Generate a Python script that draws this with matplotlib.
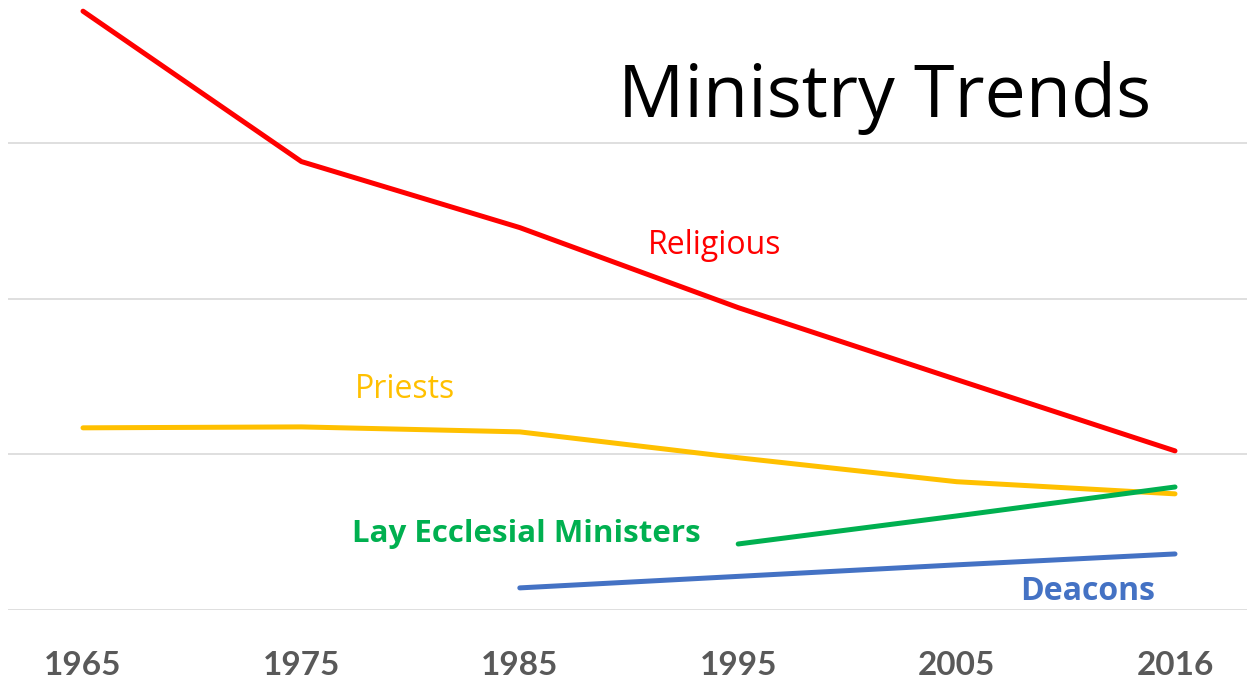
import matplotlib
matplotlib.use("Agg")
import matplotlib.pyplot as plt
import numpy as np

years = ["1965", "1975", "1985", "1995", "2005", "2016"]
religious = [192300, 144000, 122800, 97100, 74000, 51100]
priests = [58500, 58800, 57200, 48900, 41200, 37300]
lay_years_idx = [3, 4, 5]
lay_ministers = [21200, 30200, 39500]
deacon_years_idx = [2, 3, 4, 5]
deacons = [7100, 10800, 14500, 18000]

RED = "#FF0000"
YEL = "#FFC000"
GRN = "#00B050"
BLU = "#4472C4"

W, H = 1247, 681
fig = plt.figure(figsize=(W / 100, H / 100), dpi=100)
ax = fig.add_axes([8 / W, (H - 610) / H, (W - 8) / W, 610 / H])

x = np.arange(len(years))
lw = 3.6
ax.plot(x, religious, color=RED, lw=lw, solid_capstyle="round", solid_joinstyle="round", zorder=3)
ax.plot(x, priests, color=YEL, lw=lw, solid_capstyle="round", solid_joinstyle="round", zorder=3)
ax.plot(lay_years_idx, lay_ministers, color=GRN, lw=lw, solid_capstyle="round", zorder=4)
ax.plot(deacon_years_idx, deacons, color=BLU, lw=lw, solid_capstyle="round", zorder=3)

step = 50000
ax.set_ylim(0, 610 / 155.7 * step)
ax.set_xlim(-75 / 218.4, 5 + 72 / 218.4)
ax.set_yticks([0, 50000, 100000, 150000])
ax.yaxis.grid(True, color="#D9D9D9", lw=1.2)
ax.set_axisbelow(True)
ax.tick_params(axis="y", left=False, labelleft=False)
ax.set_xticks(x)
ax.set_xticklabels(years, fontsize=24, fontweight="bold", color="#595959", family="Lato")
ax.tick_params(axis="x", bottom=False, pad=26)
for s in ax.spines.values():
    s.set_visible(False)

fig.text(885 / W, 1 - 98 / H, "Ministry Trends", fontsize=53, family="Open Sans",
         color="black", ha="center", va="center")

ax.annotate("Religious", xy=(715 / W, 1 - 246 / H), xycoords="figure fraction",
            fontsize=23, color=RED, family="Open Sans", ha="center", va="center")
ax.annotate("Priests", xy=(405 / W, 1 - 390 / H), xycoords="figure fraction",
            fontsize=23, color=YEL, family="Open Sans", ha="center", va="center")
ax.annotate("Lay Ecclesial Ministers", xy=(526 / W, 1 - 534 / H), xycoords="figure fraction",
            fontsize=22.5, color=GRN, family="Open Sans", fontweight="bold", ha="center", va="center")
ax.annotate("Deacons", xy=(1088 / W, 1 - 591 / H), xycoords="figure fraction",
            fontsize=23, color=BLU, family="Open Sans", fontweight="bold", ha="center", va="center")

fig.savefig("out.png", dpi=100, facecolor="white")
